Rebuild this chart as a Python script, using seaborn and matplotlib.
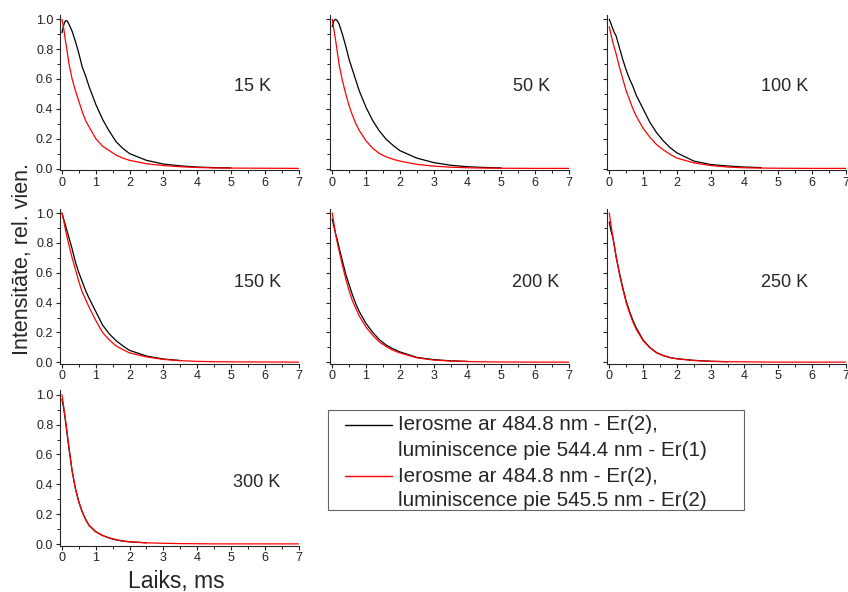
import numpy as np
import pandas as pd
import matplotlib
matplotlib.use("Agg")
import matplotlib.pyplot as plt
from matplotlib.lines import Line2D
from matplotlib.patches import Rectangle
from matplotlib.ticker import MultipleLocator
import seaborn as sns

# ---------------- data ----------------
time_ms = [0, 0.05, 0.1, 0.15, 0.2, 0.3, 0.4, 0.5, 0.6, 0.7, 0.8, 1.0, 1.2, 1.4,
           1.6, 1.8, 2.0, 2.5, 3.0, 3.5, 4.0, 4.5, 5.0, 6.0, 7.0]
nan = float("nan")

temperatures = ["15 K", "50 K", "100 K", "150 K", "200 K", "250 K", "300 K"]

black_15 = [0.91, 0.96, 0.99, 0.99, 0.97, 0.92, 0.85, 0.77, 0.68, 0.62, 0.55, 0.43, 0.33, 0.25,
            0.18, 0.135, 0.10, 0.055, 0.03, 0.018, 0.010, 0.006, 0.004, nan, nan]
red_15 = [1.0, 0.94, 0.86, 0.79, 0.71, 0.60, 0.52, 0.45, 0.38, 0.32, 0.28, 0.20, 0.15, 0.12,
          0.09, 0.07, 0.055, 0.032, 0.02, 0.012, 0.007, 0.004, 0.003, 0.002, 0.001]

black_50 = [0.95, 0.99, 1.0, 0.99, 0.97, 0.90, 0.82, 0.73, 0.66, 0.59, 0.52, 0.41, 0.32, 0.25,
            0.195, 0.155, 0.12, 0.07, 0.04, 0.022, 0.012, 0.007, 0.004, nan, nan]
red_50 = [1.0, 0.93, 0.86, 0.78, 0.70, 0.59, 0.50, 0.42, 0.355, 0.30, 0.255, 0.185, 0.135, 0.10,
          0.078, 0.062, 0.05, 0.028, 0.016, 0.009, 0.005, 0.003, 0.002, 0.001, 0.001]

black_100 = [1.0, 0.97, 0.94, 0.91, 0.89, 0.81, 0.73, 0.66, 0.60, 0.55, 0.49, 0.40, 0.31, 0.24,
             0.185, 0.14, 0.105, 0.05, 0.027, 0.017, 0.010, 0.006, nan, nan, nan]
red_100 = [0.95, 0.90, 0.85, 0.81, 0.77, 0.68, 0.60, 0.52, 0.46, 0.40, 0.35, 0.27, 0.21, 0.16,
           0.125, 0.095, 0.07, 0.038, 0.02, 0.01, 0.005, 0.003, 0.002, 0.001, 0.001]

black_150 = [1.0, 0.96, 0.92, 0.88, 0.84, 0.76, 0.67, 0.60, 0.54, 0.48, 0.43, 0.34, 0.25, 0.19,
             0.145, 0.11, 0.08, 0.042, 0.022, 0.012, nan, nan, nan, nan, nan]
red_150 = [1.0, 0.95, 0.89, 0.84, 0.79, 0.70, 0.62, 0.54, 0.47, 0.42, 0.37, 0.28, 0.20, 0.15,
           0.11, 0.085, 0.063, 0.036, 0.019, 0.011, 0.006, 0.004, 0.003, 0.002, 0.001]

black_200 = [0.96, 0.91, 0.86, 0.82, 0.77, 0.68, 0.59, 0.52, 0.45, 0.39, 0.34, 0.26, 0.20, 0.15,
             0.115, 0.09, 0.07, 0.033, 0.018, 0.01, 0.006, nan, nan, nan, nan]
red_200 = [1.0, 0.93, 0.86, 0.80, 0.75, 0.65, 0.56, 0.48, 0.41, 0.36, 0.31, 0.235, 0.18, 0.135,
           0.105, 0.08, 0.063, 0.03, 0.015, 0.008, 0.005, 0.003, 0.002, 0.001, 0.001]

black_250 = [0.94, 0.88, 0.84, 0.78, 0.71, 0.60, 0.50, 0.41, 0.34, 0.28, 0.23, 0.15, 0.10, 0.065,
             0.045, 0.032, 0.024, 0.013, 0.007, 0.004, nan, nan, nan, nan, nan]
red_250 = [1.0, 0.92, 0.85, 0.78, 0.71, 0.59, 0.49, 0.40, 0.33, 0.27, 0.22, 0.145, 0.097, 0.063,
           0.044, 0.031, 0.023, 0.012, 0.006, 0.004, 0.003, 0.002, 0.001, 0.001, 0.001]

black_300 = [0.97, 0.91, 0.83, 0.74, 0.65, 0.49, 0.37, 0.28, 0.215, 0.165, 0.125, 0.082, 0.057, 0.040,
             0.028, 0.02, 0.015, 0.008, nan, nan, nan, nan, nan, nan, nan]
red_300 = [1.0, 0.92, 0.84, 0.75, 0.66, 0.49, 0.37, 0.28, 0.215, 0.165, 0.125, 0.082, 0.058, 0.041,
           0.029, 0.02, 0.015, 0.008, 0.005, 0.003, 0.002, 0.001, 0.001, 0.001, 0.001]

black_series = [black_15, black_50, black_100, black_150, black_200, black_250, black_300]
red_series = [red_15, red_50, red_100, red_150, red_200, red_250, red_300]

label_black = ["Ierosme ar 484.8 nm - Er(2),", "luminiscence pie 544.4 nm - Er(1)"]
label_red = ["Ierosme ar 484.8 nm - Er(2),", "luminiscence pie 545.5 nm - Er(2)"]

x_ticks = [0, 1, 2, 3, 4, 5, 6, 7]
y_ticks = [0.0, 0.2, 0.4, 0.6, 0.8, 1.0]

# ---------------- long-form table ----------------
rows = []
for T, bl, rd in zip(temperatures, black_series, red_series):
    for t, b, r in zip(time_ms, bl, rd):
        rows.append((T, "black", t, b))
        rows.append((T, "red", t, r))
df = pd.DataFrame(rows, columns=["T", "series", "t", "I"]).dropna()

# ---------------- style ----------------
sns.set_style("ticks")
plt.rcParams["font.family"] = ["Liberation Sans", "DejaVu Sans"]
plt.rcParams["axes.linewidth"] = 0.8

W, H = 848, 592
fig = plt.figure(figsize=(W / 100, H / 100), dpi=100)

col_left = [0.0703, 0.3890, 0.7157]
row_bottom = [0.7123, 0.3850, 0.0780]
w, h = 0.2818, 0.2627

label_pos = [(5.65, 0.547), (5.89, 0.547), (5.18, 0.547),
             (5.80, 0.537), (6.03, 0.537), (5.18, 0.537),
             (5.77, 0.41)]

palette = {"black": "#000000", "red": "#ff0000"}

for i, T in enumerate(temperatures):
    r, c = divmod(i, 3)
    ax = fig.add_axes([col_left[c], row_bottom[r], w, h])
    sub = df[df["T"] == T]
    sns.lineplot(data=sub, x="t", y="I", hue="series", hue_order=["black", "red"],
                 palette=palette, ax=ax, legend=False, estimator=None, sort=False,
                 linewidth=0.9)
    ax.set_xlim(-0.07, 7.0)
    ax.set_ylim(-0.012, 1.03)
    ax.set_xticks(x_ticks)
    ax.set_yticks(y_ticks)
    ax.xaxis.set_minor_locator(MultipleLocator(0.5))
    ax.yaxis.set_minor_locator(MultipleLocator(0.1))
    ax.tick_params(which="major", direction="out", length=3, width=0.8,
                   labelsize=9, pad=1.5, colors="#222222")
    ax.tick_params(which="minor", direction="out", length=2, width=0.7, colors="#222222")
    ax.set_xticklabels([str(v) for v in x_ticks])
    if c == 0:
        ax.set_yticklabels([f"{v:.1f}" for v in y_ticks])
    else:
        ax.set_yticklabels([])
    for s in ["top", "right"]:
        ax.spines[s].set_visible(False)
    ax.set_xlabel("")
    ax.set_ylabel("")
    ax.set_facecolor("white")
    lx, ly = label_pos[i]
    ax.text(lx, ly, T, ha="center", va="center", fontsize=13)

fig.text(23 / W, 1 - 259 / H, "Intensitāte, rel. vien.", rotation=90,
         ha="center", va="center", fontsize=15.5)
fig.text(176 / W, 1 - 588 / H, "Laiks, ms", ha="center", va="baseline", fontsize=16.5)

# ---------------- legend box (drawn in figure pixels) ----------------
def fx(px):
    return px / W

def fy(py):
    return 1 - py / H

fig.patches.append(Rectangle((fx(328), fy(510)), fx(744) - fx(328), fy(410) - fy(510),
                             transform=fig.transFigure, fill=False,
                             edgecolor="#666666", linewidth=0.8))
for color, ypix in [("black", 425), ("red", 476)]:
    fig.lines.append(Line2D([fx(345), fx(392)], [fy(ypix), fy(ypix)],
                            transform=fig.transFigure, color=color, lw=1.0))
for txt, ypix in zip(label_black + label_red, [425, 450, 476, 501]):
    fig.text(fx(398), fy(ypix), txt, ha="left", va="center", fontsize=14.9)

fig.savefig("out.png", dpi=100, facecolor="white")
